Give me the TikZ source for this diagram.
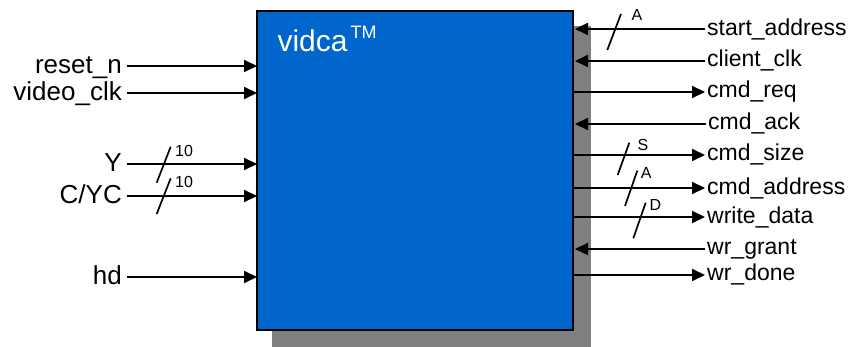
\documentclass[tikz,border=0pt]{standalone}
\usepackage{fontspec}
\setmainfont{Liberation Sans}
\usetikzlibrary{arrows.meta}
\definecolor{boxblue}{HTML}{0066CC}
\definecolor{shadowgray}{HTML}{808080}
\begin{document}
\begin{tikzpicture}[x=1pt,y=-1pt,
  wire/.style={line width=1.9pt, -{Triangle[length=13pt,width=12pt]}},
  inwire/.style={wire, shorten >=2pt},
  busmark/.style={line width=1.7pt},
  llab/.style={anchor=base east, inner sep=0pt, font=\fontsize{26}{30}\selectfont},
  rlab/.style={anchor=base west, inner sep=0pt, font=\fontsize{23}{27}\selectfont},
  wlab/.style={anchor=base west, inner sep=0pt, font=\fontsize{16}{19}\selectfont},
]
\useasboundingbox (0,0) rectangle (857,347);
% shadow and block
\node[fill=shadowgray, anchor=north west, minimum width=319pt, minimum height=321pt, inner sep=0pt, outer sep=0pt] (shadow) at (272,26) {};
\node[draw=black, line width=2pt, fill=boxblue, anchor=north west, minimum width=316pt, minimum height=319pt, inner sep=0pt, outer sep=0pt] (box) at (257,11) {};
\node[anchor=base west, inner sep=0pt, text=white, font=\fontsize{30}{36}\selectfont] (title) at (277.3,51.7) {vidca\hspace{3pt}\raisebox{13.4pt}{\fontsize{18}{20}\selectfont TM}};
% left labels and wires
\node[llab] (lreset) at (122,73.5) {reset\_n};
\node[llab] (lvclk) at (122,100.8) {video\_clk};
\node[llab] (ly) at (122,171.5) {Y};
\node[llab] (lc) at (122,203.5) {C/YC};
\node[llab] (lhd) at (122,284.2) {hd};
\coordinate (creset) at (127,66);
\coordinate (cvclk) at (127,93);
\coordinate (cy) at (127,164);
\coordinate (cc) at (127,196);
\coordinate (chd) at (127,277);
\draw[wire] (creset) -- (creset -| box.west);
\draw[wire] (cvclk) -- (cvclk -| box.west);
\draw[wire] (cy) -- (cy -| box.west);
\draw[wire] (cc) -- (cc -| box.west);
\draw[wire] (chd) -- (chd -| box.west);
\draw[busmark] (156.7,182.7) -- (170.7,146.7);
\draw[busmark] (156.7,214) -- (170.7,178.3);
\node[wlab] (wy) at (175,156.7) {10};
\node[wlab] (wc) at (175,187.7) {10};
% right labels and wires
\node[rlab] (rstart) at (707,35.3) {start\_address};
\node[rlab] (rclk) at (707,66.7) {client\_clk};
\node[rlab] (rreq) at (707,97.7) {cmd\_req};
\node[rlab] (rack) at (708,130) {cmd\_ack};
\node[rlab] (rsize) at (707,161) {cmd\_size};
\node[rlab] (raddr) at (707,194.3) {cmd\_address};
\node[rlab] (rwd) at (707,223.3) {write\_data};
\node[rlab] (rgr) at (707,255) {wr\_grant};
\node[rlab] (rdone) at (707,281) {wr\_done};
\coordinate (cstart) at (705,29);
\coordinate (cclk) at (705,61);
\coordinate (creq) at (705,92);
\coordinate (cack) at (706,124);
\coordinate (csize) at (705,155);
\coordinate (caddr) at (705,188);
\coordinate (cwd) at (705,217);
\coordinate (cgr) at (705,249);
\coordinate (cdone) at (705,275);
\draw[inwire] (cstart) -- (cstart -| box.east);
\draw[inwire] (cclk) -- (cclk -| box.east);
\draw[wire] (creq -| box.east) -- (creq);
\draw[inwire] (cack) -- (cack -| box.east);
\draw[wire] (csize -| box.east) -- (csize);
\draw[wire] (caddr -| box.east) -- (caddr);
\draw[wire] (cwd -| box.east) -- (cwd);
\draw[inwire] (cgr) -- (cgr -| box.east);
\draw[wire] (cdone -| box.east) -- (cdone);
\draw[busmark] (607.3,50) -- (621,14);
\draw[busmark] (617.7,175) -- (629.3,142.7);
\draw[busmark] (625,206) -- (637.3,170.7);
\draw[busmark] (633.3,238.3) -- (645.7,202.7);
\node[wlab] (wstart) at (631.5,21) {A};
\node[wlab] (wsize) at (637.3,151) {S};
\node[wlab] (waddr) at (640.7,178.3) {A};
\node[wlab] (wwd) at (649.3,210.5) {D};
\end{tikzpicture}
\end{document}
